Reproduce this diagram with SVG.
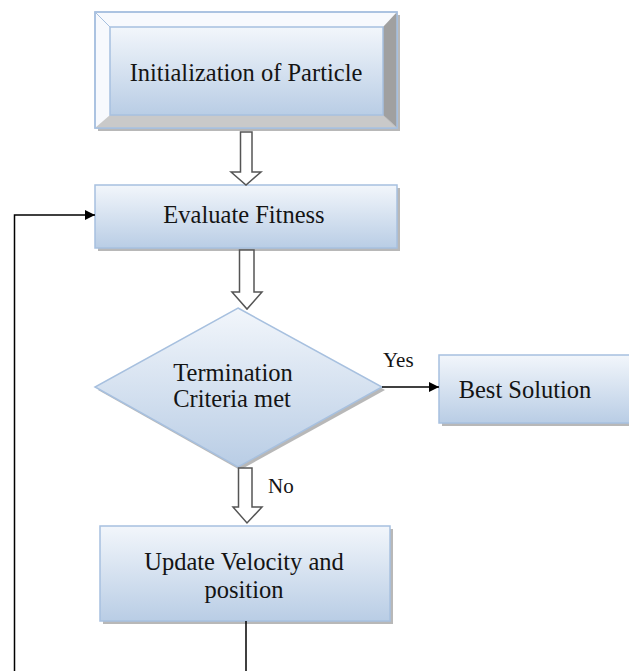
<svg xmlns="http://www.w3.org/2000/svg" width="629" height="671" viewBox="0 0 629 671">
<defs>
<linearGradient id="g" x1="0" y1="0" x2="0" y2="1">
<stop offset="0" stop-color="#f2f6fb"/>
<stop offset="1" stop-color="#b9cde5"/>
</linearGradient>
<marker id="ah" viewBox="0 0 10 10" refX="10" refY="5" markerWidth="13" markerHeight="10" markerUnits="userSpaceOnUse" orient="auto">
<path d="M0,0 L10,5 L0,10 z" fill="#000"/>
</marker>
</defs>
<style>
.box{fill:url(#g);stroke:#a7c0df;stroke-width:1.5}
.sh{fill:#9a9a9a;opacity:0.7}
.t{font-family:"Liberation Serif","Times New Roman",serif;font-size:24.5px;fill:#141414;text-anchor:middle}
.lbl{font-family:"Liberation Serif","Times New Roman",serif;font-size:21px;fill:#141414}
.blk{fill:#fff;stroke:#555;stroke-width:1.5}
.ln{fill:none;stroke:#000;stroke-width:1.5}
</style>
<rect width="629" height="671" fill="#fff"/>
<g id="init">
<rect x="98" y="15" width="302" height="116" class="sh"/>
<rect x="95" y="12" width="302" height="116" fill="#f7f9fd" stroke="#a7c0df" stroke-width="1.5"/>
<polygon points="397,12 383,27 383,115 397,128" fill="#a0a0a0"/>
<polygon points="95,128 110,115 383,115 397,128" fill="#c9c9c9"/>
<line x1="95" y1="12" x2="110" y2="27" stroke="#a7c0df" stroke-width="1"/>
<line x1="397" y1="128" x2="383" y2="115" stroke="#bbbbbb" stroke-width="1"/>
<rect x="110" y="27" width="273" height="88" class="box" stroke-width="1"/>
<rect x="95" y="12" width="302" height="116" fill="none" stroke="#a7c0df" stroke-width="1.5"/>
<text x="246" y="81" class="t">Initialization of Particle</text>
</g>
<g id="eval">
<rect x="98" y="188" width="302" height="63" class="sh"/>
<rect x="95" y="185" width="302" height="63" class="box"/>
<text x="244" y="223" class="t">Evaluate Fitness</text>
</g>
<g id="decision">
<polygon points="240,311 385,390 240,470 98,390" class="sh"/>
<polygon points="238,308 382,387 238,467 95,387" class="box"/>
<text x="233" y="381" class="t">Termination</text>
<text x="232" y="407" class="t">Criteria met</text>
</g>
<g id="best">
<rect x="442" y="358" width="200" height="68" class="sh"/>
<rect x="439" y="355" width="200" height="68" class="box"/>
<text x="525" y="398" class="t">Best Solution</text>
</g>
<g id="update">
<rect x="103" y="529" width="290" height="95" class="sh"/>
<rect x="100" y="526" width="290" height="95" class="box"/>
<text x="244" y="570" class="t">Update Velocity and</text>
<text x="244" y="598" class="t">position</text>
</g>
<g id="connectors">
<path class="blk" d="M240.5,132 H252 V172 H261 L246,185 L231,172 H240.5 Z"/>
<path class="blk" d="M239.5,250 H254 V292 H262 L247,309 L232,292 H239.5 Z"/>
<path class="blk" d="M238.5,468 H252 V507 H262 L247,523 L233,507 H238.5 Z"/>
<path class="ln" d="M14.5,671 V215 H95" marker-end="url(#ah)"/>
<line class="ln" x1="382" y1="387" x2="439" y2="387" marker-end="url(#ah)"/>
<line class="ln" x1="246" y1="621" x2="246" y2="671"/>
<text x="383" y="367" class="lbl">Yes</text>
<text x="268" y="493" class="lbl">No</text>
</g>
</svg>
